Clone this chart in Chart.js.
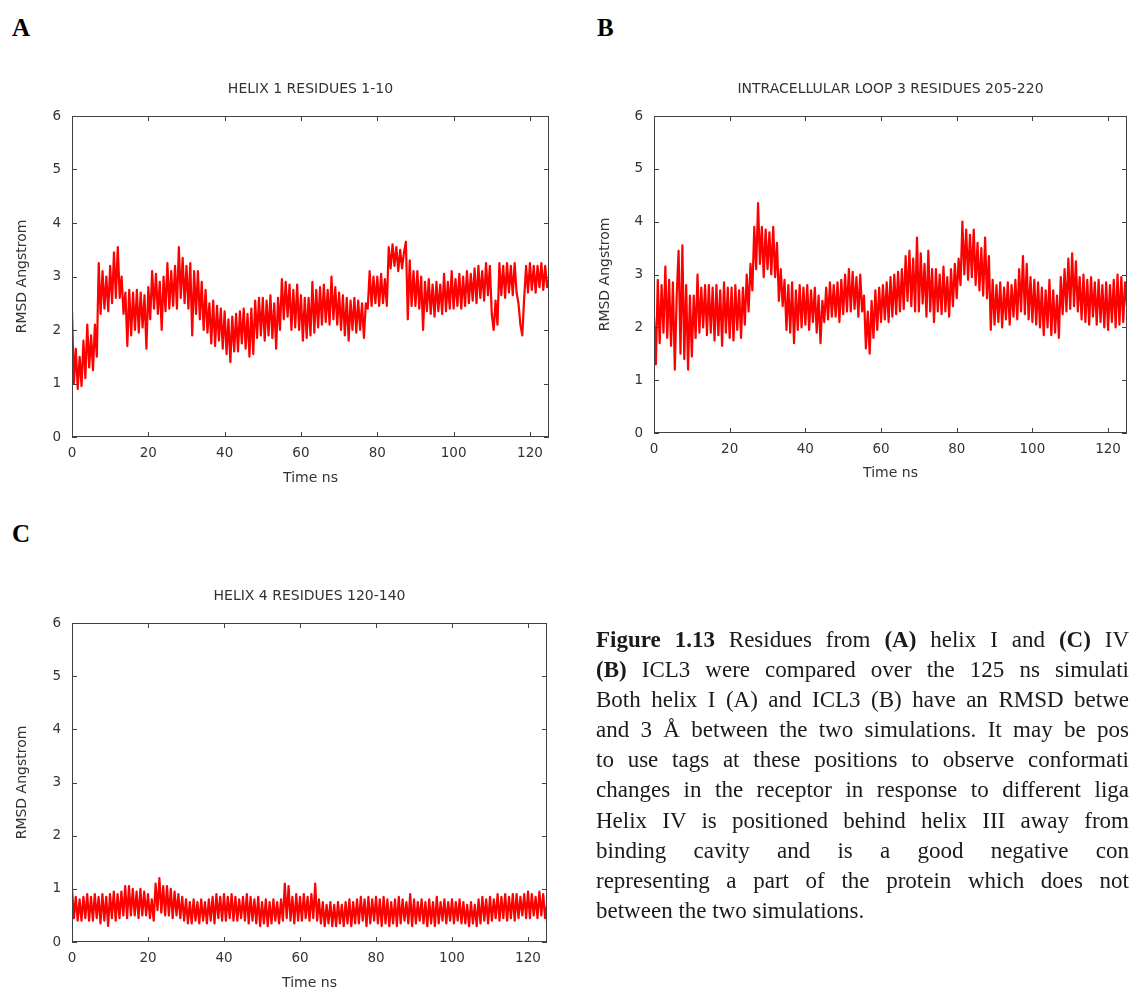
<!DOCTYPE html>
<html>
<head>
<meta charset="utf-8">
<title>RMSD residues</title>
<script src="https://cdn.jsdelivr.net/npm/chart.js@4.4.1/dist/chart.umd.min.js"></script>
<style>
    html, body { margin: 0; padding: 0; background: #fff; }
    body { width: 1129px; height: 990px; overflow: hidden; position: relative; }
    .panel-label { position: absolute; font-family: "Liberation Serif", serif; font-weight: bold; font-size: 25px; line-height: 1; color: #000; }
    canvas { position: absolute; }
    .caption { position: absolute; left: 596px; top: 625px; font-family: "Liberation Serif", serif; font-size: 23px; line-height: 30.1px; color: #1a1a1a; }
    .caption div { width: 533px; height: 30.1px; overflow: hidden; text-align: justify; text-align-last: justify; }
    .caption div.last { text-align-last: left; }
</style>
</head>
<body>
<div class="panel-label" style="left:12px; top:15px;">A</div>
<div class="panel-label" style="left:597px; top:15px;">B</div>
<div class="panel-label" style="left:12px; top:521px;">C</div>

<canvas id="chartA" width="621" height="420" style="left:0px; top:70px;"></canvas>
<canvas id="chartB" width="615" height="416" style="left:583px; top:70px;"></canvas>
<canvas id="chartC" width="619" height="418" style="left:0px; top:577px;"></canvas>

<div class="caption">
    <div><b>Figure 1.13</b> Residues from <b>(A)</b> helix I and <b>(C)</b> IV</div>
    <div><b>(B)</b> ICL3 were compared over the 125 ns simulati</div>
    <div>Both helix I (A) and ICL3 (B) have an RMSD betwe</div>
    <div>and 3 Å between the two simulations. It may be pos</div>
    <div>to use tags at these positions to observe conformati</div>
    <div>changes in the receptor in response to different liga</div>
    <div>Helix IV is positioned behind helix III away from</div>
    <div>binding cavity and is a good negative con</div>
    <div>representing a part of the protein which does not</div>
    <div class="last">between the two simulations.</div>
</div>

<script>
// sampling step of the traces (ns)
const timeStep = 0.5;
const xTicks = [0, 20, 40, 60, 80, 100, 120];
const yTicks = [0, 1, 2, 3, 4, 5, 6];

const titleA = 'HELIX 1 RESIDUES 1-10';
const titleB = 'INTRACELLULAR LOOP 3 RESIDUES 205-220';
const titleC = 'HELIX 4 RESIDUES 120-140';

// RMSD (Angstrom), one value every 0.5 ns
const rmsdHelix1 = [
    2.35, 1.0, 1.65, 0.9, 1.5, 0.95, 1.8, 1.1, 2.1, 1.3,
    1.9, 1.25, 2.1, 1.5, 3.25, 2.3, 3.1, 2.4, 3.0, 2.35,
    3.2, 2.5, 3.45, 2.6, 3.55, 2.6, 3.0, 2.3, 2.7, 1.7,
    2.75, 1.9, 2.7, 2.0, 2.75, 1.95, 2.7, 2.05, 2.65, 1.65,
    2.8, 2.2, 3.1, 2.4, 3.05, 2.3, 2.9, 2.0, 3.0, 2.35,
    3.25, 2.4, 3.1, 2.45, 3.2, 2.4, 3.55, 2.6, 3.35, 2.5,
    3.2, 2.4, 3.25, 1.9, 3.1, 2.3, 3.1, 2.2, 2.9, 2.0,
    2.75, 1.95, 2.5, 1.75, 2.55, 1.7, 2.45, 1.8, 2.4, 1.65,
    2.35, 1.55, 2.2, 1.4, 2.25, 1.6, 2.3, 1.6, 2.35, 1.75,
    2.4, 1.65, 2.3, 1.5, 2.4, 1.55, 2.55, 1.85, 2.6, 1.9,
    2.6, 1.8, 2.55, 1.9, 2.65, 1.85, 2.5, 1.65, 2.6, 2.0,
    2.95, 2.2, 2.9, 2.25, 2.85, 2.0, 2.75, 2.05, 2.85, 2.0,
    2.65, 1.8, 2.6, 1.85, 2.6, 1.9, 2.9, 1.95, 2.75, 2.05,
    2.8, 2.1, 2.85, 2.15, 2.75, 2.1, 3.0, 2.2, 2.8, 2.1,
    2.7, 2.0, 2.65, 1.9, 2.6, 1.8, 2.55, 2.0, 2.6, 1.95,
    2.55, 2.0, 2.5, 1.85, 2.5, 2.4, 3.1, 2.45, 3.0, 2.5,
    3.0, 2.45, 3.05, 2.5, 2.95, 2.45, 3.55, 3.15, 3.6, 3.2,
    3.55, 3.1, 3.5, 3.15, 3.45, 3.65, 2.2, 3.3, 2.45, 3.1,
    2.45, 3.1, 2.4, 3.0, 2.0, 2.9, 2.35, 2.95, 2.3, 2.85,
    2.25, 2.9, 2.35, 2.85, 2.3, 3.05, 2.35, 2.9, 2.4, 3.1,
    2.4, 2.95, 2.45, 3.05, 2.4, 3.0, 2.45, 3.1, 2.5, 3.05,
    2.55, 3.15, 2.5, 3.2, 2.6, 3.1, 2.55, 3.25, 2.65, 3.2,
    2.3, 2.0, 2.55, 2.1, 3.25, 2.65, 3.2, 2.6, 3.25, 2.7,
    3.2, 2.65, 3.25, 2.7, 2.5, 2.1, 1.9, 2.6, 3.2, 2.7,
    3.25, 2.75, 3.2, 2.7, 3.2, 2.8, 3.25, 2.75, 3.2, 2.8,
    2.95
];

const rmsdLoop3 = [
    2.2, 1.3, 2.9, 1.7, 2.8, 1.9, 3.15, 1.8, 2.9, 1.65,
    2.85, 1.2, 2.6, 3.45, 1.5, 3.55, 1.4, 2.8, 1.2, 2.6,
    1.45, 2.6, 1.8, 3.0, 1.9, 2.75, 2.0, 2.8, 1.85, 2.8,
    1.9, 2.75, 1.75, 2.8, 1.85, 2.7, 1.65, 2.85, 1.9, 2.75,
    1.8, 2.75, 1.75, 2.8, 1.95, 2.7, 1.8, 2.75, 2.05, 3.0,
    2.3, 3.2, 2.7, 3.9, 3.1, 4.35, 3.2, 3.9, 2.95, 3.85,
    3.1, 3.8, 3.0, 3.9, 2.95, 3.6, 2.5, 3.1, 2.4, 2.9,
    1.95, 2.8, 1.9, 2.85, 1.7, 2.7, 1.95, 2.8, 2.0, 2.75,
    2.05, 2.8, 1.95, 2.7, 2.1, 2.75, 1.9, 2.6, 1.7, 2.5,
    2.1, 2.75, 2.15, 2.85, 2.2, 2.8, 2.2, 2.85, 2.1, 2.9,
    2.25, 3.0, 2.3, 3.1, 2.3, 3.05, 2.35, 2.95, 2.2, 3.0,
    2.3, 2.6, 1.6, 2.3, 1.5, 2.5, 1.8, 2.7, 1.95, 2.75,
    2.1, 2.8, 2.15, 2.85, 2.1, 2.95, 2.2, 3.0, 2.25, 3.05,
    2.3, 3.1, 2.35, 3.35, 2.5, 3.45, 2.4, 3.3, 2.3, 3.7,
    2.3, 3.4, 2.45, 3.2, 2.2, 3.45, 2.3, 3.1, 2.1, 3.1,
    2.3, 3.0, 2.25, 3.15, 2.3, 2.95, 2.2, 3.1, 2.4, 3.2,
    2.55, 3.3, 2.8, 4.0, 3.0, 3.85, 2.9, 3.75, 2.95, 3.85,
    2.8, 3.6, 2.7, 3.5, 2.6, 3.7, 2.55, 3.35, 1.95, 2.9,
    2.05, 2.8, 2.1, 2.85, 2.0, 2.75, 2.15, 2.85, 2.05, 2.8,
    2.2, 2.9, 2.15, 3.1, 2.3, 3.35, 2.25, 3.2, 2.15, 2.95,
    2.1, 2.9, 2.05, 2.85, 2.0, 2.75, 1.85, 2.7, 2.0, 2.9,
    1.85, 2.7, 1.9, 2.6, 1.8, 2.95, 2.25, 3.1, 2.3, 3.3,
    2.35, 3.4, 2.4, 3.25, 2.3, 2.95, 2.15, 3.0, 2.1, 2.9,
    2.05, 2.95, 2.2, 2.85, 2.05, 2.9, 2.1, 2.8, 2.0, 2.85,
    1.95, 2.8, 2.1, 2.9, 2.0, 3.0, 2.05, 2.95, 2.1, 2.85,
    2.4
];

const rmsdHelix4 = [
    1.0, 0.45, 0.85, 0.4, 0.8, 0.4, 0.85, 0.45, 0.9, 0.4,
    0.85, 0.4, 0.9, 0.45, 0.85, 0.35, 0.9, 0.4, 0.85, 0.3,
    0.9, 0.45, 0.95, 0.4, 0.9, 0.45, 0.95, 0.5, 1.05, 0.45,
    1.05, 0.5, 1.0, 0.5, 0.95, 0.45, 1.0, 0.5, 0.95, 0.5,
    0.9, 0.45, 0.8, 0.4, 1.1, 0.6, 1.2, 0.55, 1.05, 0.5,
    1.05, 0.5, 1.0, 0.45, 0.95, 0.5, 0.9, 0.45, 0.85, 0.4,
    0.8, 0.35, 0.75, 0.35, 0.8, 0.4, 0.75, 0.35, 0.8, 0.4,
    0.75, 0.35, 0.8, 0.4, 0.85, 0.35, 0.9, 0.45, 0.85, 0.4,
    0.9, 0.4, 0.85, 0.45, 0.9, 0.4, 0.85, 0.4, 0.8, 0.45,
    0.85, 0.4, 0.9, 0.35, 0.85, 0.4, 0.8, 0.35, 0.85, 0.3,
    0.75, 0.35, 0.8, 0.3, 0.75, 0.35, 0.8, 0.4, 0.75, 0.35,
    0.8, 0.4, 1.1, 0.45, 1.05, 0.4, 0.85, 0.35, 0.9, 0.4,
    0.85, 0.4, 0.9, 0.45, 0.85, 0.4, 0.9, 0.45, 1.1, 0.4,
    0.8, 0.35, 0.75, 0.3, 0.7, 0.35, 0.75, 0.3, 0.7, 0.3,
    0.75, 0.35, 0.7, 0.3, 0.75, 0.35, 0.8, 0.3, 0.75, 0.35,
    0.8, 0.35, 0.85, 0.4, 0.8, 0.3, 0.85, 0.35, 0.8, 0.4,
    0.85, 0.35, 0.8, 0.3, 0.85, 0.35, 0.8, 0.3, 0.75, 0.35,
    0.8, 0.3, 0.85, 0.35, 0.8, 0.4, 0.75, 0.35, 0.9, 0.3,
    0.8, 0.35, 0.75, 0.4, 0.8, 0.35, 0.75, 0.3, 0.8, 0.35,
    0.75, 0.3, 0.85, 0.35, 0.75, 0.4, 0.8, 0.35, 0.75, 0.4,
    0.8, 0.35, 0.75, 0.4, 0.8, 0.35, 0.75, 0.35, 0.7, 0.3,
    0.75, 0.35, 0.7, 0.3, 0.8, 0.35, 0.85, 0.4, 0.8, 0.35,
    0.85, 0.4, 0.8, 0.45, 0.9, 0.4, 0.85, 0.45, 0.9, 0.4,
    0.85, 0.45, 0.9, 0.4, 0.9, 0.45, 0.85, 0.5, 0.9, 0.45,
    0.95, 0.45, 0.9, 0.5, 0.85, 0.45, 0.95, 0.5, 0.9, 0.45,
    0.7
];

const textColor = '#333';
const frameColor = '#404040';
const tickLen = 5;

// gnuplot style box with inward ticks on all four sides
const framePlugin = {
    id: 'frame',
    afterDatasetsDraw(chart) {
        const { ctx, chartArea: a, scales } = chart;
        ctx.save();
        ctx.strokeStyle = frameColor;
        ctx.lineWidth = 1;
        ctx.beginPath();
        scales.x.ticks.forEach(t => {
            const px = Math.round(scales.x.getPixelForValue(t.value)) + 0.5;
            ctx.moveTo(px, a.bottom);
            ctx.lineTo(px, a.bottom - tickLen);
            ctx.moveTo(px, a.top);
            ctx.lineTo(px, a.top + tickLen);
        });
        scales.y.ticks.forEach(t => {
            const py = Math.round(scales.y.getPixelForValue(t.value)) + 0.5;
            ctx.moveTo(a.left, py);
            ctx.lineTo(a.left + tickLen, py);
            ctx.moveTo(a.right, py);
            ctx.lineTo(a.right - tickLen, py);
        });
        ctx.stroke();
        ctx.strokeRect(Math.round(a.left) + 0.5, Math.round(a.top) + 0.5,
            Math.round(a.right - a.left) - 1, Math.round(a.bottom - a.top) - 1);
        ctx.restore();
    }
};

function makeChart(id, title, values, opts) {
    const points = values.map((v, i) => ({ x: i * timeStep, y: v }));
    return new Chart(document.getElementById(id), {
        type: 'line',
        data: {
            datasets: [{
                data: points,
                borderColor: '#ff0000',
                borderWidth: 2.2,
                borderJoinStyle: 'round',
                pointRadius: 0,
                tension: 0,
            }],
        },
        options: {
            responsive: false,
            animation: false,
            events: [],
            plugins: {
                legend: { display: false },
                tooltip: { enabled: false },
                title: {
                    display: true,
                    text: title,
                    color: textColor,
                    font: { family: 'DejaVu Sans', size: 14, weight: 'normal' },
                    padding: { top: 10.6, bottom: 18.6 },
                },
            },
            scales: {
                x: {
                    type: 'linear',
                    min: 0,
                    max: 125,
                    afterFit: s => { s.height = 53; },
                    afterBuildTicks: s => { s.ticks = xTicks.map(v => ({ value: v })); },
                    grid: { display: false, drawTicks: false },
                    border: { display: false },
                    ticks: { color: textColor, padding: 8, font: { family: 'DejaVu Sans', size: 13.5 } },
                    title: {
                        display: true,
                        text: 'Time ns',
                        color: textColor,
                        font: { family: 'DejaVu Sans', size: 14 },
                        padding: { top: 0, bottom: opts.xTitlePad },
                    },
                },
                y: {
                    min: 0,
                    max: 6,
                    afterFit: s => { s.width = opts.yWidth; },
                    afterBuildTicks: s => { s.ticks = yTicks.map(v => ({ value: v })); },
                    grid: { display: false, drawTicks: false },
                    border: { display: false },
                    ticks: { color: textColor, padding: 11, font: { family: 'DejaVu Sans', size: 13.5 } },
                    title: {
                        display: true,
                        text: 'RMSD Angstrom',
                        color: textColor,
                        font: { family: 'DejaVu Sans', size: 14 },
                        padding: { top: 13.6, bottom: 0 },
                    },
                },
                // empty right axis, keeps the title centred over the plot box
                yRight: {
                    position: 'right',
                    afterFit: s => { s.width = opts.right; },
                    grid: { display: false, drawTicks: false },
                    border: { display: false },
                    ticks: { display: false },
                },
            },
        },
        plugins: [framePlugin],
    });
}

document.addEventListener('DOMContentLoaded', function () {
    makeChart('chartA', titleA, rmsdHelix1, { right: 72, yWidth: 72, xTitlePad: 3.6 });
    makeChart('chartB', titleB, rmsdLoop3, { right: 71, yWidth: 71, xTitlePad: 4.6 });
    makeChart('chartC', titleC, rmsdHelix4, { right: 72, yWidth: 72, xTitlePad: 3.6 });
});
</script>
</body>
</html>
